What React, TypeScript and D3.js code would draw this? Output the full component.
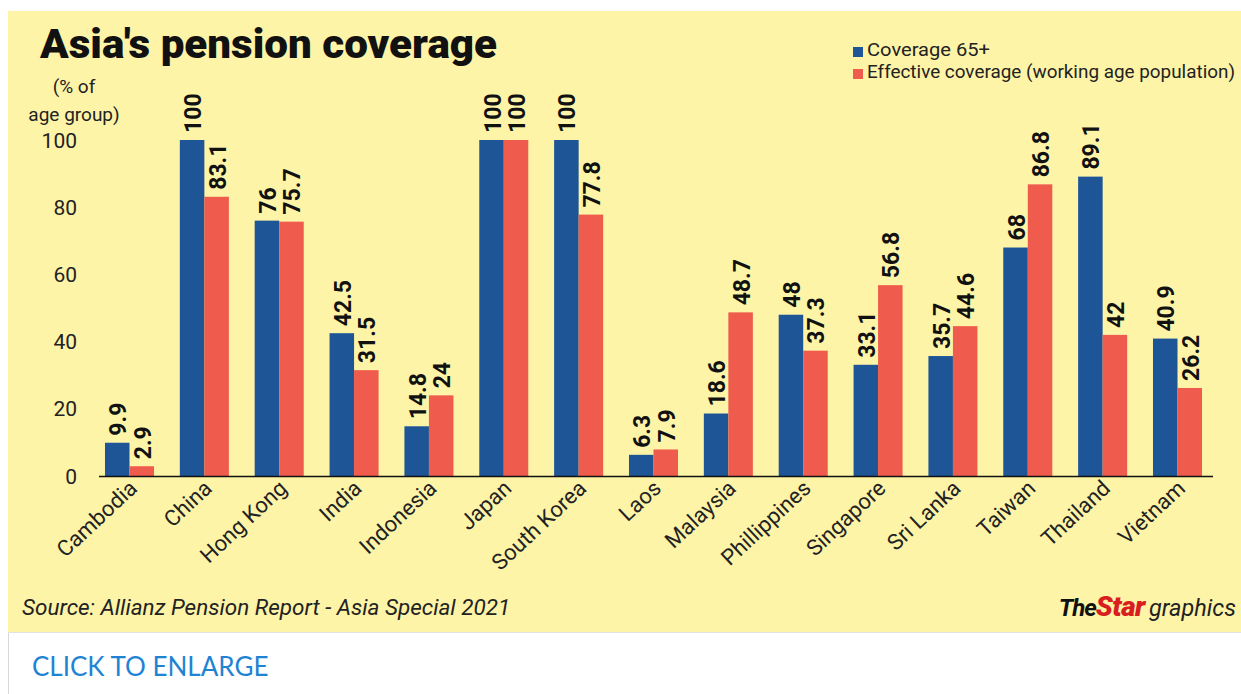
import React from "react";
import * as d3 from "d3";

const categories = ["Cambodia", "China", "Hong Kong", "India", "Indonesia", "Japan", "South Korea", "Laos", "Malaysia", "Phillippines", "Singapore", "Sri Lanka", "Taiwan", "Thailand", "Vietnam"];
const coverage65 = [9.9, 100, 76, 42.5, 14.8, 100, 100, 6.3, 18.6, 48, 33.1, 35.7, 68, 89.1, 40.9];
const effectiveCoverage = [2.9, 83.1, 75.7, 31.5, 24, 100, 77.8, 7.9, 48.7, 37.3, 56.8, 44.6, 86.8, 42, 26.2];
const seriesNames = ["Coverage 65+", "Effective coverage (working age population)"];
const yTicks = [0, 20, 40, 60, 80, 100];

const W = 1241;
const H = 694;
const BG = "#fdf4a8";
const BLUE = "#1d5597";
const RED = "#ef5b4c";
const FONT = "Roboto, 'Noto Sans', sans-serif";

export default function App() {
  const x = d3.scaleBand<string>().domain(categories).range([97.5, 1209.5]).paddingInner(0.345).paddingOuter(0.1);
  const x1 = d3.scaleBand<number>().domain([0, 1]).range([0, x.bandwidth()]);
  const y = d3.scaleLinear().domain([0, 100]).range([476, 140]);
  const series = [coverage65, effectiveCoverage];
  const colors = [BLUE, RED];

  const fmt = (v: number) => String(v);

  return (
    <svg width={W} height={H} style={{ position: "fixed", left: 0, top: 0, display: "block" }}>
      <rect x={0} y={0} width={W} height={H} fill="#ffffff" />
      <rect x={8} y={11} width={W - 8} height={621} fill={BG} />
      <line x1={8.5} y1={632} x2={8.5} y2={H} stroke="#d8d8d8" strokeWidth={1} />
      <line x1={8} y1={632.5} x2={W} y2={632.5} stroke="#e2e2e2" strokeWidth={1} />

      {/* Title */}
      <text x={40} y={58} fontFamily={FONT} fontWeight={900} fontSize={41} fill="#111" textLength={457} lengthAdjust="spacingAndGlyphs">
        Asia's pension coverage
      </text>
      <text x={74} y={93} textAnchor="middle" fontFamily={FONT} fontSize={19} fill="#222">(% of</text>
      <text x={74} y={121} textAnchor="middle" fontFamily={FONT} fontSize={19} fill="#222">age group)</text>

      {/* Legend */}
      {seriesNames.map((name, i) => (
        <g key={name}>
          <rect x={853} y={47 + i * 22} width={10} height={10} fill={colors[i]} />
          <text x={867} y={56 + i * 22} fontFamily={FONT} fontSize={19} fill="#222" textLength={i === 0 ? 123 : 368} lengthAdjust="spacingAndGlyphs">{name}</text>
        </g>
      ))}

      {/* Y tick labels */}
      {yTicks.map((t) => (
        <text key={t} x={77} y={y(t) + 7.5} textAnchor="end" fontFamily={FONT} fontSize={21} fill="#222">{t}</text>
      ))}

      {/* Bars */}
      {categories.map((c, ci) => (
        <g key={c} transform={`translate(${x(c)},0)`}>
          {series.map((s, si) => {
            const v = s[ci];
            const bx = x1(si)!;
            const bw = x1.bandwidth();
            const cx = bx + bw / 2 + 9;
            const ty = y(v) - 7;
            return (
              <g key={si}>
                <rect x={bx} y={y(v)} width={bw} height={y(0) - y(v)} fill={colors[si]} />
                <text transform={`translate(${cx},${ty}) rotate(-90)`} fontFamily={FONT} fontWeight={700} fontSize={23} fill="#111">{fmt(v)}</text>
              </g>
            );
          })}
        </g>
      ))}

      {/* X axis */}
      <line x1={99} y1={476.5} x2={1213} y2={476.5} stroke="#111" strokeWidth={1.5} />
      {categories.map((c) => {
        const cx = x(c)! + x.bandwidth() / 2 + 9;
        return (
          <text key={c} transform={`translate(${cx},${490}) rotate(-43)`} textAnchor="end" fontFamily={FONT} fontSize={22} fill="#222">{c}</text>
        );
      })}

      {/* Footer */}
      <text x={22} y={615} fontFamily={FONT} fontStyle="italic" fontSize={22.5} fill="#222">Source: Allianz Pension Report - Asia Special 2021</text>
      <text x={1236} y={616} textAnchor="end" fontFamily={FONT} fontStyle="italic" fill="#222">
        <tspan fontSize={24} fontWeight={700} letterSpacing={-1} fill="#111">The</tspan>
        <tspan fontSize={28} fontWeight={900} fill="#d81e1e" letterSpacing={-0.5}>Star</tspan>
        <tspan fontSize={23.5} dx={4}>graphics</tspan>
      </text>

      <text x={32} y={676} fontFamily="Lato, 'Open Sans', sans-serif" fontSize={26} fill="#1f83d4">CLICK TO ENLARGE</text>
    </svg>
  );
}
